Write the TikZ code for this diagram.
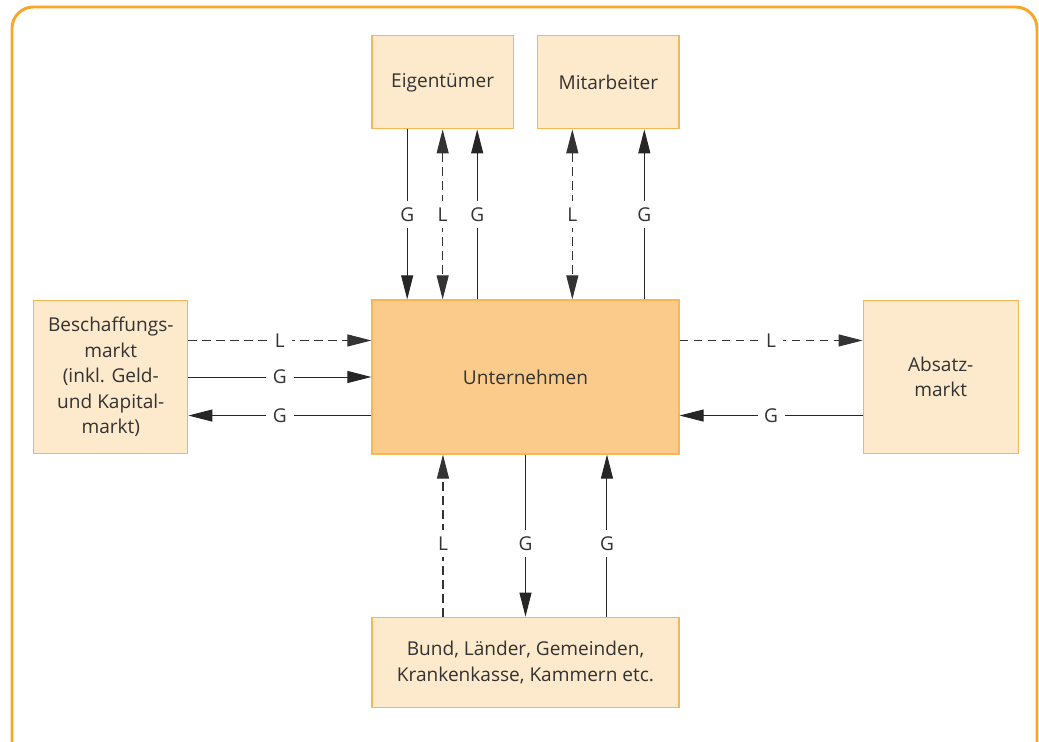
\documentclass[tikz,border=0pt]{standalone}
\usepackage{fontspec}
\setmainfont{Open Sans}
\usetikzlibrary{positioning, arrows.meta}

\definecolor{frameorange}{HTML}{F7A626}
\definecolor{boxline}{HTML}{F9B656}
\definecolor{boxfill}{HTML}{FDE9CB}
\definecolor{corefill}{HTML}{FBCB8B}
\definecolor{textgray}{HTML}{333333}

\begin{document}
\begin{tikzpicture}[x=0.75pt, y=-0.75pt, >={Triangle[length=18pt, width=9pt]},
        font=\fontsize{14.3}{19.2}\selectfont, text=textgray]
            \tikzset{
                box/.style={
                        draw=boxline, fill=boxfill, line width=0.9pt, align=center, inner sep=0pt
                    },
                flow/.style={->, draw=black!85, line width=0.75pt},
                goods/.style={flow, draw=black!80, line width=0.8pt, dash pattern=on 6.5pt off 4pt},
                lbl/.style={fill=white, inner sep=5pt, text=textgray}
            }
            \useasboundingbox (0,0) rectangle (1039,742);

            % Frame
            \draw[frameorange, line width=2.2pt, rounded corners=16pt] (12,7) rectangle (1037,770);

            % Boxes
            \node[box, fill=corefill, minimum width=230.25pt, minimum height=115.5pt] (unt) at (525.5,377) {Unternehmen};
            \node[box, minimum width=106pt, minimum height=69.75pt, above=127.5pt of unt.north west, anchor=south west] (eig) {Eigentümer};
            \node[box, minimum width=106pt, minimum height=69.75pt, above=127.5pt of unt.north east, anchor=south east] (mit) {Mitarbeiter};
            \node[box, minimum width=115.5pt, minimum height=114.75pt, left=137.25pt of unt] (bes) {Beschaffungs-\\markt\\(inkl. Geld-\\und Kapital-\\markt)};
            \node[box, minimum width=116.25pt, minimum height=114.75pt, right=137.25pt of unt] (abs) {Absatz-\\markt};
            \node[box, minimum width=230.25pt, minimum height=67.5pt, below=121.5pt of unt] (bund) {Bund, Länder, Gemeinden,\\Krankenkasse, Kammern etc.};

            % Owners and staff
            \draw[flow] ([xshift=-26.6pt]eig.south) -- node[lbl] {G} ([xshift=-26.6pt]eig.south |- unt.north);
            \draw[goods, <->] (eig.south) -- node[lbl] {L} (eig.south |- unt.north);
            \draw[flow] ([xshift=25.9pt]eig.south |- unt.north) -- node[lbl] {G} ([xshift=25.9pt]eig.south);
            \draw[goods, <->] ([xshift=-27pt]mit.south) -- node[lbl] {L} ([xshift=-27pt]mit.south |- unt.north);
            \draw[flow] ([xshift=27pt]mit.south |- unt.north) -- node[lbl] {G} ([xshift=27pt]mit.south);

            % Markets
            \draw[goods] ([yshift=27.4pt]bes.east) -- node[lbl] {L} ([yshift=27.4pt]bes.east -| unt.west);
            \draw[flow] (bes.east) -- node[lbl] {G} (unt.west);
            \draw[flow] ([yshift=-28.9pt]unt.west) -- node[lbl] {G} ([yshift=-28.9pt]unt.west -| bes.east);
            \draw[goods] ([yshift=27.4pt]unt.east) -- node[lbl] {L} ([yshift=27.4pt]unt.east -| abs.west);
            \draw[flow] ([yshift=-28.9pt]abs.west) -- node[lbl] {G} ([yshift=-28.9pt]abs.west -| unt.east);

            % State
            \draw[goods] ([xshift=-61.9pt]bund.north) -- node[lbl, pos=0.45] {L} ([xshift=-61.9pt]bund.north |- unt.south);
            \draw[flow] (unt.south) -- node[lbl, pos=0.55] {G} (bund.north);
            \draw[flow] ([xshift=61.1pt]bund.north) -- node[lbl, pos=0.45] {G} ([xshift=61.1pt]bund.north |- unt.south);
        \end{tikzpicture}
\end{document}
